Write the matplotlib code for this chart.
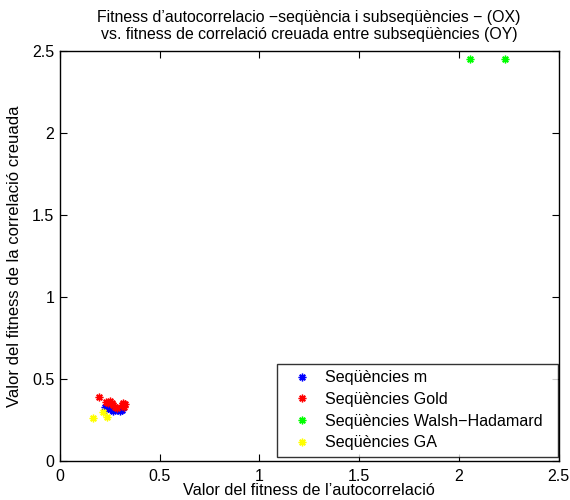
import numpy as np
import matplotlib
matplotlib.use('Agg')
import matplotlib.pyplot as plt

plt.rcParams['font.family'] = ['Liberation Sans', 'DejaVu Sans']

# fitness values (autocorrelation, cross-correlation) per family of sequences
m_x = [0.226, 0.231, 0.240, 0.252, 0.267, 0.284, 0.295, 0.301, 0.310]
m_y = [0.331, 0.315, 0.322, 0.318, 0.307, 0.311, 0.316, 0.307, 0.313]

gold_x = [0.195, 0.232, 0.242, 0.250, 0.259, 0.267, 0.276, 0.285, 0.317, 0.321, 0.312, 0.325]
gold_y = [0.392, 0.362, 0.356, 0.366, 0.352, 0.341, 0.331, 0.325, 0.352, 0.331, 0.342, 0.345]

wh_x = [2.055, 2.230]
wh_y = [2.450, 2.450]

ga_x = [0.164, 0.217, 0.237]
ga_y = [0.264, 0.301, 0.270]

fig = plt.figure(figsize=(5.7, 5.0), dpi=100)
ax = fig.add_axes([0.105, 0.078, 0.875, 0.82])

mk = (8, 2, 0)
ax.plot(m_x, m_y, linestyle='none', marker=mk, color='#0000ff', markersize=5.5, mew=1, label='Seqüències m')
ax.plot(gold_x, gold_y, linestyle='none', marker=mk, color='#ff0000', markersize=5.5, mew=1, label='Seqüències Gold')
ax.plot(wh_x, wh_y, linestyle='none', marker=mk, color='#00ff00', markersize=5.5, mew=1, label='Seqüències Walsh−Hadamard')
ax.plot(ga_x, ga_y, linestyle='none', marker=mk, color='#ffff00', markersize=5.5, mew=1, label='Seqüències GA')

ax.set_xlim(0, 2.5)
ax.set_ylim(0, 2.5)
ax.set_xticks([0, 0.5, 1, 1.5, 2, 2.5])
ax.set_yticks([0, 0.5, 1, 1.5, 2, 2.5])
ax.set_xticklabels(['0', '0.5', '1', '1.5', '2', '2.5'])
ax.set_yticklabels(['0', '0.5', '1', '1.5', '2', '2.5'])
ax.tick_params(direction='in', top=True, right=True, labelsize=11.5, length=5)
ax.tick_params(axis='x', pad=6)
ax.tick_params(axis='y', pad=4)
for s in ax.spines.values():
    s.set_linewidth(1)

ax.set_xlabel('Valor del fitness de l’autocorrelació', fontsize=11.7, labelpad=-1)
ax.set_ylabel('Valor del fitness de la correlació creuada', fontsize=12, labelpad=7)
ax.set_title('Fitness d’autocorrelacio −seqüència i subseqüències − (OX)\n'
             'vs. fitness de correlació creuada entre subseqüències (OY)',
             fontsize=11.4, linespacing=1.1, pad=9)

# legend box stretched to a fixed width in the lower right corner
leg = ax.legend(loc='lower left', bbox_to_anchor=(0.435, 0.01, 0.563, 0.2), mode='expand',
                borderaxespad=0, fontsize=11.6, frameon=True, fancybox=False, edgecolor='black',
                handletextpad=0.29, labelspacing=0.42, borderpad=0.4, handlelength=2.3)
leg.get_frame().set_linewidth(1)

fig.savefig('out.png', dpi=100)
